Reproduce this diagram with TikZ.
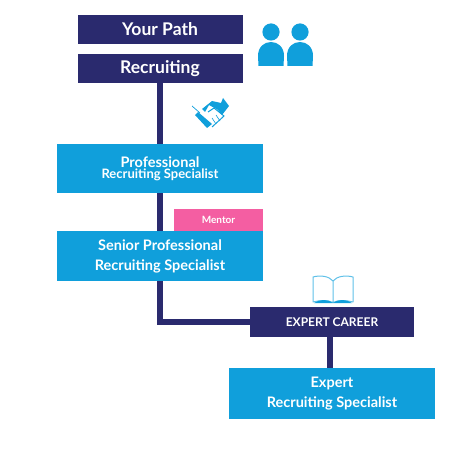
\documentclass[tikz,border=0pt]{standalone}
\usepackage{fontspec}
\setmainfont{Lato}
\definecolor{navy}{HTML}{2A2A6E}
\definecolor{sky}{HTML}{109FDB}
\definecolor{pinkm}{HTML}{F45EA2}
\definecolor{booklight}{HTML}{5FC0E8}
\tikzset{
  boxbase/.style={anchor=north west,inner sep=0pt,outer sep=0pt,align=center,text=white,font=\bfseries},
  navybox/.style={boxbase,fill=navy},
  skybox/.style={boxbase,fill=sky},
  pinkbox/.style={boxbase,fill=pinkm},
  link/.style={draw=navy,line width=6.3pt},
  icon/.style={fill=sky,draw=none}
}
\begin{document}
\begin{tikzpicture}[x=1pt,y=-1pt]
\useasboundingbox (0,0) rectangle (448,454);
\node[navybox,minimum width=165pt,minimum height=29pt,font=\bfseries\fontsize{17.5}{20}\selectfont] (path) at (77.5,15) {Your Path};
\node[navybox,minimum width=165pt,minimum height=29pt,font=\bfseries\fontsize{17.5}{20}\selectfont] (rec) at (77.5,54) {Recruiting};
\node[skybox,minimum width=206pt,minimum height=49pt] (prof) at (57,144) {\fontsize{14.5}{19}\selectfont Professional\\[-1pt]\fontsize{13}{19}\selectfont Recruiting Specialist};
\node[pinkbox,minimum width=89pt,minimum height=22pt,font=\bfseries\fontsize{10}{12}\selectfont] (mentor) at (174,209) {Mentor};
\node[skybox,minimum width=206pt,minimum height=50pt,font=\bfseries\fontsize{14.5}{20}\selectfont] (senior) at (57,231) {Senior Professional\\Recruiting Specialist};
\node[navybox,minimum width=164pt,minimum height=30pt,font=\bfseries\fontsize{12}{14}\selectfont] (career) at (250,307) {EXPERT CAREER};
\node[skybox,minimum width=206pt,minimum height=51pt,font=\bfseries\fontsize{14.5}{20}\selectfont] (expert) at (229,368) {Expert\\Recruiting Specialist};
\begin{scope}[on background layer/.try]
\end{scope}
\coordinate (careerdown) at ([xshift=-2pt]career.south);
\draw[link] (rec.south) -- (prof.north);
\draw[link] (prof.south) -- (senior.north);
\draw[link] (senior.south) |- (career.west);
\draw[link] (careerdown) -- (careerdown |- expert.north);
% people icon
\fill[icon] (271,32) circle (8.6);
\fill[icon] (300,32) circle (8.6);
\fill[icon] (258.5,66) -- (258,56) .. controls (258,47) and (264,42) .. (271,42) .. controls (278,42) and (284,47) .. (284,56) -- (283.5,66) -- cycle;
\fill[icon] (287.5,66) -- (287,56) .. controls (287,47) and (293,42) .. (300,42) .. controls (307,42) and (313,47) .. (313,56) -- (312.5,66) -- cycle;
% handshake icon
\fill[icon] (202,109) -- (212,101) -- (221,103) -- (223,98) -- (229,106) -- (222,115) -- (218,110) -- (209,105) -- (205,112) -- cycle;
\fill[icon] (195,115) -- (198,112) -- (212,124) -- (207,128) -- cycle;
\draw[sky,line width=.7pt] (192,106) -- (200,113);
\draw[sky,line width=1pt] (208,112) -- (214,108) -- (224,116) -- (212,127);
\draw[sky,line width=.6pt] (212,118) -- (216,124) (216,115) -- (220,121);
% book icon
\draw[booklight,line width=1pt,line join=round] (333,302.5) -- (333,281) .. controls (329,276) and (320,275) .. (313,277) -- (313,302) .. controls (320,300) and (328,300) .. (333,302.5) .. controls (338,300) and (346,300) .. (353,302) -- (353,277) .. controls (346,275) and (337,276) .. (333,281);
\fill[sky] (314,303) .. controls (320,299) and (328,299) .. (333,303) .. controls (338,299) and (346,299) .. (352,303) -- cycle;
\end{tikzpicture}
\end{document}
